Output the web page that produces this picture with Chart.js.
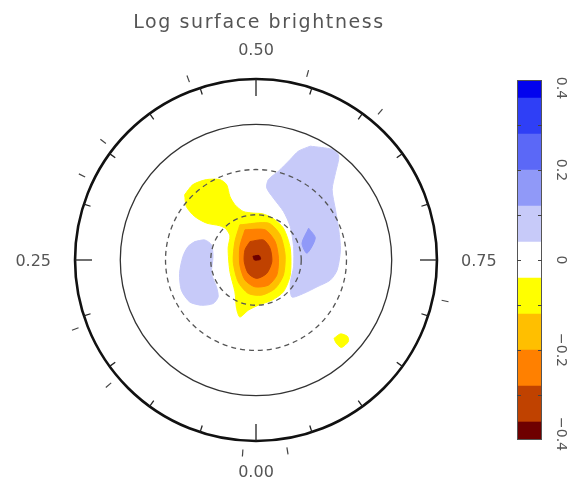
<!DOCTYPE html>
<html lang="en">
<head>
<meta charset="UTF-8">
<title>Log surface brightness</title>
<script src="https://cdn.jsdelivr.net/npm/chart.js"></script>
<style>
    body { margin: 0; background: #fff; }
    .quadro { position: relative; width: 567px; height: 481px; overflow: hidden; }
    #mapa { position: absolute; left: 0; top: 0; }
    #barra { position: absolute; left: 500px; top: 0; }
</style>
</head>
<body>
<div class="quadro">
    <canvas id="mapa" width="512" height="481"></canvas>
    <canvas id="barra" width="67" height="481"></canvas>
</div>

<script>
    // faixas da escala de cores (log do brilho superficial)
    var levelEdges = [-0.4, -0.36, -0.28, -0.2, -0.12, -0.04, 0.04, 0.12, 0.2, 0.28, 0.36, 0.4];
    var levelColors = ['#6e0000', '#c04200', '#ff8000', '#ffbf00', '#ffff00', '#ffffff',
                       '#c7caf9', '#9099f8', '#5b68f7', '#2f3ff6', '#0303ee'];
    var cbLabels = [-0.4, -0.2, 0, 0.2, 0.4];
    var cbMinorTicks = [-0.3, -0.2, -0.1, 0, 0.1, 0.2, 0.3];

    // grade polar: colatitude (graus) dos circulos de latitude 60, 30, 0, -30
    var ringColat = [30, 60, 90, 120];
    var phaseLabels = ['0.00', '0.25', '0.50', '0.75'];
    var phaseLabelPos = [0, 0.25, 0.5, 0.75];
    // fases das observacoes (marcas externas)
    var obsPhases = [0.011, 0.138, 0.192, 0.322, 0.355, 0.443, 0.543, 0.611, 0.784, 0.974];

    // regioes (x, y em graus de colatitude projetada, polo no centro)
    var brightOuter = [[-47.3,43.3],[-41.8,50],[-32.9,53.3],[-24,53.3],[-19.5,50],[-17.3,42.2],[-14,36.7],
        [-8.5,32.2],[-1.8,31.1],[4,30.7],[10.7,28],[18.2,21.1],[22.7,7.8],[22.7,-10],[18.2,-21.1],
        [10.5,-26.7],[1.5,-30],[-5.1,-33.3],[-10.7,-37.8],[-12.9,-32.2],[-14,-21.1],[-17.3,-7.8],
        [-18.5,7.8],[-17.3,16],[-20,20.7],[-24,22.7],[-32.9,24.5],[-40.7,28.9],[-46.2,35.5]];
    var brightSpot = [[51.7,-52],[56,-49],[60.7,-50.7],[61.3,-54],[56.7,-58],[53.3,-55.3]];
    var brightGold = [[-10.7,23.3],[8.2,24.5],[16,16.7],[19.3,3.3],[18.2,-10],[12.7,-18.9],[3.8,-23.3],
        [-5.1,-22.2],[-11.8,-14.5],[-15.1,-1.1],[-14,12.2]];
    var brightOrange = [[-7.3,20],[6,20],[12.7,12.2],[14.9,1.1],[13.8,-10],[8.2,-16.7],[-0.7,-17.8],
        [-7.3,-13.3],[-10.7,-3.3],[-10.7,8.9]];
    var brightBrown = [[-4,12.2],[4.9,13.3],[9.3,7.8],[10.5,-1.1],[7.1,-8.9],[0.5,-12.2],[-5.1,-8.9],
        [-7.8,-1.1],[-7.3,6.7]];
    var brightCore = [[-2,2.5],[2,3],[3,0.5],[-1,0]];
    var darkEast = [[36,75.5],[50.5,73.3],[54.9,68.9],[52.7,57.8],[50.5,46.7],[52.7,33.3],[54.9,20],
        [56,6.7],[53.8,-6.7],[49.3,-13.3],[40.5,-17.8],[31.5,-22.2],[23.8,-24.5],[22.7,-15.5],
        [24.9,-4.5],[24.9,8.9],[22.7,22.2],[18.2,32.2],[11.5,41.1],[7.1,47.8],[8.2,53.3],
        [14.9,58.9],[22.7,66.7],[28.2,72.2]];
    var darkEastCore = [[34.9,21.1],[39.3,14.5],[33.8,4.5],[30.5,11.1]];
    var darkWest = [[-40.7,12.2],[-34,13.3],[-29.5,10],[-28.5,2.2],[-29.5,-8.9],[-26.2,-17.8],
        [-25.1,-24.5],[-28.5,-28.9],[-36.2,-30],[-44,-27.8],[-49.5,-20],[-50.7,-8.9],
        [-48.5,2.2],[-45.1,8.9]];

    // nivel (valor dentro da faixa) de cada regiao, da mais externa para a mais interna
    var regions = [darkEast, darkWest, darkEastCore, brightOuter, brightSpot, brightGold, brightOrange, brightBrown, brightCore];
    var regionLevels = [0.08, 0.08, 0.16, -0.08, -0.08, -0.16, -0.24, -0.32, -0.38];

    function corDoNivel(v) {
        for (var i = 0; i < levelColors.length; i++) {
            if (v >= levelEdges[i] && v < levelEdges[i + 1]) return levelColors[i];
        }
        return levelColors[levelColors.length - 1];
    }

    var datasets = [];
    for (var i = 0; i < regions.length; i++) {
        var pts = regions[i].map(function (p) { return { x: p[0], y: p[1] }; });
        pts.push(pts[0]);
        var cor = corDoNivel(regionLevels[i]);
        datasets.push({
            data: pts,
            showLine: true,
            fill: 'shape',
            backgroundColor: cor,
            borderColor: cor,
            borderWidth: 1,
            pointRadius: 0,
            tension: 0.25,
            order: regions.length - i   // as internas ficam por cima
        });
    }

    var pxPorGrau = 1.508;
    var centroX = 256, centroY = 260;

    var gradePolar = {
        id: 'gradePolar',
        afterDatasetsDraw: function (chart) {
            var ctx = chart.ctx;
            var sx = chart.scales.x, sy = chart.scales.y;
            var cx = sx.getPixelForValue(0), cy = sy.getPixelForValue(0);
            ctx.save();

            // circulos de latitude
            for (var i = 0; i < ringColat.length; i++) {
                var r = sx.getPixelForValue(ringColat[i]) - cx;
                ctx.beginPath();
                ctx.arc(cx, cy, r, 0, Math.PI * 2);
                if (i < 2) {
                    ctx.setLineDash([5, 4]);
                    ctx.strokeStyle = '#555';
                    ctx.lineWidth = 1.3;
                } else if (i == 2) {
                    ctx.setLineDash([]);
                    ctx.strokeStyle = '#333';
                    ctx.lineWidth = 1.3;
                } else {
                    ctx.setLineDash([]);
                    ctx.strokeStyle = '#111';
                    ctx.lineWidth = 2.6;
                }
                ctx.stroke();
            }
            ctx.setLineDash([]);

            var R = sx.getPixelForValue(ringColat[ringColat.length - 1]) - cx;

            // marcas de fase a cada 0.05 (para dentro)
            ctx.strokeStyle = '#222';
            ctx.lineWidth = 1.3;
            for (var k = 0; k < 20; k++) {
                var f = k * 0.05;
                var a = 2 * Math.PI * f;
                var dx = -Math.sin(a), dy = Math.cos(a);
                var len = (k % 5 == 0) ? 17 : 7;
                ctx.beginPath();
                ctx.moveTo(cx + dx * R, cy + dy * R);
                ctx.lineTo(cx + dx * (R - len), cy + dy * (R - len));
                ctx.stroke();
            }

            // fases observadas (para fora)
            ctx.strokeStyle = '#444';
            ctx.lineWidth = 1.2;
            for (var j = 0; j < obsPhases.length; j++) {
                var b = 2 * Math.PI * obsPhases[j];
                var ex = -Math.sin(b), ey = Math.cos(b);
                ctx.beginPath();
                ctx.moveTo(cx + ex * (R + 9), cy + ey * (R + 9));
                ctx.lineTo(cx + ex * (R + 16), cy + ey * (R + 16));
                ctx.stroke();
            }

            // rotulos de fase
            ctx.fillStyle = '#555';
            ctx.font = '16px "DejaVu Sans"';
            ctx.textAlign = 'center';
            ctx.textBaseline = 'alphabetic';
            for (var m = 0; m < phaseLabels.length; m++) {
                var c = 2 * Math.PI * phaseLabelPos[m];
                var ux = -Math.sin(c), uy = Math.cos(c);
                var w = ctx.measureText(phaseLabels[m]).width;
                var d = Math.abs(ux) * (R + 24 + w / 2) + Math.abs(uy) * (R + 30);
                ctx.fillText(phaseLabels[m], cx + ux * d, cy + uy * d + 6);
            }

            // titulo
            ctx.font = '19px "DejaVu Sans"';
            ctx.letterSpacing = '1.6px';
            ctx.fillStyle = '#555';
            ctx.textAlign = 'center';
            ctx.fillText('Log surface brightness', 259, 28);
            ctx.restore();
        }
    };

    new Chart(document.getElementById('mapa'), {
        type: 'scatter',
        data: { datasets: datasets },
        options: {
            responsive: false,
            animation: false,
            layout: { padding: 0 },
            plugins: { legend: { display: false }, tooltip: { enabled: false } },
            scales: {
                x: { type: 'linear', display: false, min: -centroX / pxPorGrau, max: (512 - centroX) / pxPorGrau },
                y: { type: 'linear', display: false, min: -(481 - centroY) / pxPorGrau, max: centroY / pxPorGrau }
            }
        },
        plugins: [gradePolar]
    });

    // barra de cores
    var faixas = [];
    for (var n = 0; n < levelColors.length; n++) {
        faixas.push({
            data: [[levelEdges[n], levelEdges[n + 1]]],
            backgroundColor: levelColors[n],
            borderWidth: 0,
            grouped: false,
            barPercentage: 1,
            categoryPercentage: 1
        });
    }

    var molduraBarra = {
        id: 'molduraBarra',
        afterDatasetsDraw: function (chart) {
            var ctx = chart.ctx;
            var a = chart.chartArea;
            var sy = chart.scales.y;
            ctx.save();
            ctx.strokeStyle = '#555';
            ctx.lineWidth = 1;
            ctx.strokeRect(a.left + 0.5, a.top + 0.5, a.right - a.left - 1, a.bottom - a.top - 1);
            ctx.strokeStyle = '#444';
            for (var i = 0; i < cbMinorTicks.length; i++) {
                var y = Math.round(sy.getPixelForValue(cbMinorTicks[i])) + 0.5;
                ctx.beginPath();
                ctx.moveTo(a.left, y); ctx.lineTo(a.left + 4, y);
                ctx.moveTo(a.right - 4, y); ctx.lineTo(a.right, y);
                ctx.stroke();
            }
            ctx.fillStyle = '#555';
            ctx.font = '14px "DejaVu Sans"';
            ctx.textAlign = 'center';
            ctx.textBaseline = 'middle';
            for (var j = 0; j < cbLabels.length; j++) {
                var yl = sy.getPixelForValue(cbLabels[j]);
                yl = Math.max(a.top + 8, Math.min(a.bottom - 6, yl));
                var txt = cbLabels[j] == 0 ? '0' : (cbLabels[j] < 0 ? '\u2212' : '') + Math.abs(cbLabels[j]).toFixed(1);
                ctx.save();
                ctx.translate(61, yl);
                ctx.rotate(Math.PI / 2);
                ctx.fillText(txt, 0, 0);
                ctx.restore();
            }
            ctx.restore();
        }
    };

    new Chart(document.getElementById('barra'), {
        type: 'bar',
        data: { labels: ['cb'], datasets: faixas },
        options: {
            responsive: false,
            animation: false,
            layout: { padding: { left: 17, right: 25, top: 80, bottom: 41 } },
            plugins: { legend: { display: false }, tooltip: { enabled: false } },
            scales: {
                x: { display: false },
                y: { display: false, min: -0.4, max: 0.4 }
            }
        },
        plugins: [molduraBarra]
    });
</script>
</body>
</html>
